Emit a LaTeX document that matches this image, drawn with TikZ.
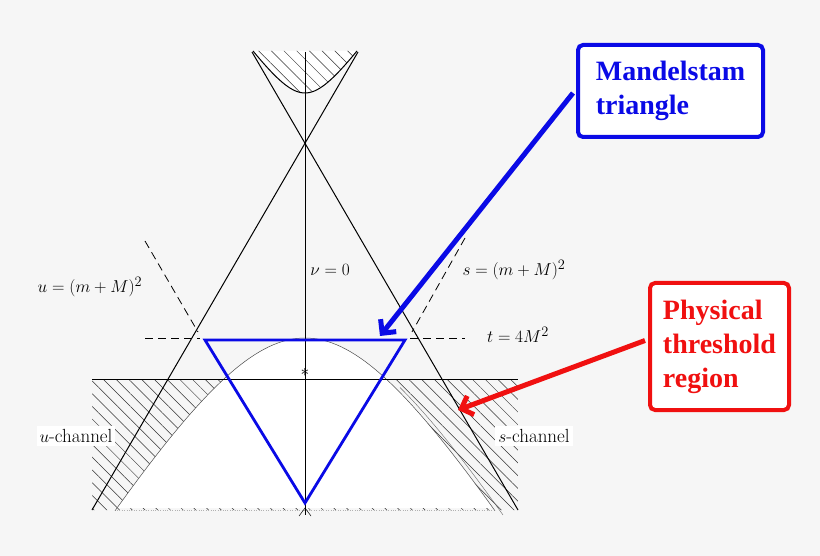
\documentclass[tikz,border=0pt]{standalone}
\usepackage{fontspec}
\newfontfamily\boxfont{Liberation Serif}
\usetikzlibrary{patterns.meta,arrows.meta}
\definecolor{bg}{HTML}{F6F6F6}
\definecolor{mblue}{HTML}{0A0AE6}
\definecolor{mred}{HTML}{F01010}
\begin{document}
\begin{tikzpicture}[x=1pt,y=-1pt,
  lbl/.style={font=\fontsize{19}{22}\selectfont,inner sep=1pt},
  callout/.style={draw,line width=4pt,rounded corners=5pt,align=left,font=\boxfont\bfseries\fontsize{28}{34}\selectfont,inner sep=8pt},
  hatch/.style={pattern={Lines[angle=-45,distance=9pt,line width=0.5pt]},pattern color=black!80}]
\useasboundingbox[fill=bg] (0,0) rectangle (820,556);
% white inside lower curve
\fill[white] plot[domain=-188:188,samples=80] ({305+\x},{338+198*(sqrt(1+(\x/120)^2)-1)}) -- cycle;
% hatched region
\begin{scope}
\clip (92,379) rectangle (518,510);
\fill[hatch,even odd rule] (92,379) rectangle (518,510)
  plot[domain=-188:188,samples=80] ({305+\x},{338+198*(sqrt(1+(\x/120)^2)-1)}) -- cycle;
\end{scope}
\draw[black!70,line width=0.5pt] plot[domain=-190:190,samples=80] ({305+\x},{338+198*(sqrt(1+(\x/120)^2)-1)});
\draw[black!60,line width=0.4pt] plot[domain=90:193,samples=40] ({310+\x},{338+198*(sqrt(1+(\x/120)^2)-1)});
\draw[dotted,black!30] (117,510) -- (493,510);
% top hatched region
\fill[white] plot[domain=-52:52,samples=40] ({305+\x},{93-42*(sqrt(1+(\x/30)^2)-1)}) -- cycle;
\fill[hatch] plot[domain=-52:52,samples=40] ({305+\x},{93-42*(sqrt(1+(\x/30)^2)-1)}) -- cycle;
\draw[line width=1pt] plot[domain=-52:52,samples=40] ({305+\x},{93-42*(sqrt(1+(\x/30)^2)-1)});
% lines
\coordinate (bl) at (92,510); \coordinate (tr) at (358,52);
\coordinate (br) at (518,510); \coordinate (tl) at (252,52);
\draw[line width=1pt] (bl) -- (tr);
\draw[line width=1pt] (br) -- (tl);
\draw[line width=0.5pt] (305,52) -- (305,515);
\draw[line width=1pt] (92,379) -- (518,379);
\draw[line width=0.5pt] (299,516) -- (305,508) -- (311,516);
% dashed
\draw[dash pattern=on 8pt off 5pt,line width=0.8pt] (145,338) -- (200,338) (410,338) -- (465,338);
\draw[dash pattern=on 8pt off 5pt,line width=0.8pt] (145,241) -- (198,332);
\draw[dash pattern=on 8pt off 5pt,line width=0.8pt] (465,238) -- (412,332);
% triangle
\coordinate (ta) at (205,340); \coordinate (tb) at (405,340); \coordinate (tc) at (305,503);
\draw[mblue,line width=2.8pt,line join=miter] (ta) -- (tb) -- (tc) -- cycle;
\node[font=\fontsize{16}{16}\selectfont,inner sep=0pt] (star) at (305,372) {$*$};
% labels
\node[lbl] (u) at (90,287) {$u=(m+M)^2$};
\node[lbl] (nu) at (330,270) {$\nu=0$};
\node[lbl] (s) at (514,270) {$s=(m+M)^2$};
\node[lbl] (t) at (518,335) {$t=4M^2$};
\node[lbl,fill=white,inner sep=3pt] (uc) at (76,436) {$u$-channel};
\node[lbl,fill=white,inner sep=3pt] (sc) at (534,436) {$s$-channel};
% callouts
\node[callout,draw=mblue,text=mblue,fill=white,minimum width=185pt,minimum height=92pt] (mb) at (670.5,91) {Mandelstam\\triangle};
\node[callout,draw=mred,text=mred,fill=white,minimum width=139pt,minimum height=127pt] (rb) at (719.5,346.5) {Physical\\threshold\\region};
\coordinate (ma) at (380,336);
\coordinate (ra) at (458,410);
\draw[mblue,line width=5pt,-{Straight Barb[length=10pt,width=20pt]}] (mb.west) ++(-3,2) -- (ma);
\draw[mred,line width=5pt,-{Straight Barb[length=10pt,width=20pt]}] (rb.west) ++(-3,-6) -- (ra);
\end{tikzpicture}
\end{document}
